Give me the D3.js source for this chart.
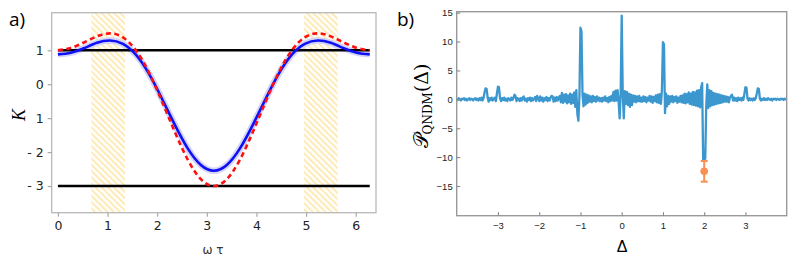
<!DOCTYPE html>
<html>
<head>
<meta charset="utf-8">
<script src="https://cdn.jsdelivr.net/npm/d3@7"></script>
<style>
  body { margin: 0; background: #fff; }
</style>
</head>
<body>
<svg id="chart" width="797" height="261"></svg>
<script>
// ---- panel a data: K against omega*tau, read every pi/12 from 0 to 2pi ----
var omegaStep = Math.PI / 12;
var kTheory = [1, 1.07, 1.23, 1.41, 1.5, 1.38, 1, 0.35, -0.5, -1.41, -2.23, -2.8, -3,
               -2.8, -2.23, -1.41, -0.5, 0.35, 1, 1.38, 1.5, 1.41, 1.23, 1.07, 1];
var kMeasured = [0.88, 0.93, 1.06, 1.22, 1.29, 1.19, 0.87, 0.31, -0.42, -1.2, -1.9, -2.38, -2.55,
                 -2.38, -1.9, -1.2, -0.42, 0.31, 0.87, 1.19, 1.29, 1.22, 1.06, 0.93, 0.88];
var kBounds = [1, -3];
var hatchBands = [[0.673, 1.352], [4.957, 5.636]];
var aTicksX = [0, 1, 2, 3, 4, 5, 6];
var aTicksY = [1, 0, -1, -2, -3];
var aTickLabelsY = ["1", "0", "1", "- 2", "- 3"];

// ---- panel b data: P_QNDM(Delta), read every 0.025 from -4 to 4 ----
var deltaStart = -4, deltaStep = 0.025;
var qndm = [
  0.1, -0.1, 0.2, 0.0, -0.2, 0.1, 0.0, 0.2, -0.1, 0.1, -0.2, 0.0, 0.2, -0.1, 0.1, 0.0, -0.2, 0.1, 0.2, -0.1,
  0.1, -0.2, 0.2, -0.1, 0.3, -0.2, 0.2, 1.2, 1.9, 1.8, 0.3, -0.4, 0.2, -0.1, 0.3, -0.2, 0.1, 0.3, -0.3, 1.0,
  2.2, 2.1, 0.2, -0.3, 0.2, -0.1, 0.3, -0.2, 0.1, -0.3, 0.2, 0.0, -0.2, 0.3, -0.1, 0.2, 0.8, 0.6, -0.3, 0.2,
  0.1, -0.3, 0.2, -0.2, 0.3, 0.5, -0.2, 0.1, -0.4, 0.2, -0.1, 0.3, -0.3, 0.2, -0.2, 0.1, 0.4, -0.3, 0.6, 0.2,
  -0.3, 0.5, -0.2, 0.3, -0.4, 0.2, -0.1, 0.4, -0.3, 0.2, -0.2, 0.3, 0.6, 0.5, -0.4, 0.3, -0.3, 0.4, -0.2, 0.3,
  0.6, -0.5, 1.1, -0.6, 0.8, -0.4, 0.9, -0.7, 0.7, -0.5, 1.0, -0.8, 0.8, -0.6, 1.2, -1.3, 1.6, -2.5, -3.7, 0.5,
  12.4, 11.8, 0.8, -1.2, 1.0, -0.9, 0.8, -0.6, 0.7, -0.4, 0.5, -0.5, 0.6, -0.3, 0.4, -0.4, 0.5, -0.2, 0.3, -0.3,
  0.2, -0.4, 0.3, -0.2, 0.5, -0.3, 0.2, -0.5, 0.4, -0.3, 0.6, -0.2, 1.3, -0.3, 1.5, -0.2, 1.6, -0.4, -3.3, 1.0,
  14.5, 1.0, -3.3, 1.4, -0.8, 1.3, -1.0, 1.0, -1.3, 0.8, -1.0, 0.7, -0.4, 0.6, -0.5, 0.5, -0.3, 0.6, -0.4, 0.3,
  -0.4, 0.5, -0.3, 0.4, -0.5, 0.3, -0.2, 0.6, -0.4, 0.5, -0.6, 0.4, -0.3, 0.7, -0.5, 0.8, -0.6, 0.9, -0.8, 1.5,
  9.9, 9.5, -2.4, 1.0, -1.2, 0.6, -0.8, 0.5, -0.4, 0.6, -0.5, 0.4, -0.3, 0.5, -0.6, 0.3, -0.4, 0.6, -0.5, 0.7,
  -0.6, 1.0, -0.7, 0.9, -0.5, 1.2, -0.8, 1.0, -0.9, 1.3, -1.0, 1.2, -1.1, 1.5, -1.2, 1.6, -1.4, 2.0, 2.8, -10.5,
  -10.5, -10.3, -1.0, 2.6, -1.5, 1.6, -1.2, 1.4, -1.0, 1.1, -0.9, 1.0, -0.8, 0.9, -0.7, 0.8, -0.6, 0.7, -0.5, 0.6,
  -0.4, 0.5, -0.4, 0.4, -0.5, 0.3, 0.6, 0.8, -0.2, 0.3, -0.2, 0.2, -0.3, 0.3, -0.1, 0.2, -0.2, 0.3, -0.1, 1.0,
  2.1, 2.0, 0.1, -0.2, 0.2, -0.1, 0.1, -0.2, 0.2, -0.1, 0.2, 1.0, 1.9, 1.8, 0.1, -0.2, 0.1, -0.1, 0.2, -0.1,
  0.1, -0.1, 0.2, 0.0, -0.1, 0.1, -0.2, 0.1, 0.0, 0.1, -0.1, 0.1, 0.0, -0.1, 0.1, 0.0, 0.1, -0.1, 0.1, 0.0,
  0.0
];
var pointDelta = [2];
var pointValue = [-12.45];
var pointLow = [-14.25];
var pointHigh = [-10.67];
var bTicksX = [-3, -2, -1, 0, 1, 2, 3];
var bTicksY = [-15, -10, -5, 0, 5, 10, 15];

var svg = d3.select("#chart");
var defs = svg.append("defs");

// diagonal hatch for the shaded bands
var pat = defs.append("pattern")
    .attr("id", "hatch")
    .attr("patternUnits", "userSpaceOnUse")
    .attr("width", 4.4).attr("height", 4.4)
    .attr("patternTransform", "rotate(-45)");
pat.append("rect").attr("width", 2.0).attr("height", 4.4).attr("fill", "#feeab4");

// ================= panel a =================
var ax = d3.scaleLinear().domain([-0.1257, 6.409]).range([51.7, 376]);
var ay = d3.scaleLinear().domain([-3.787, 2.108]).range([212.7, 12.7]);
var ga = svg.append("g");

ga.selectAll("rect.hatch")
    .data(hatchBands)
    .enter().append("rect")
    .attr("class", "hatch")
    .attr("x", function(d) { return ax(d[0]); })
    .attr("width", function(d) { return ax(d[1]) - ax(d[0]); })
    .attr("y", ay.range()[1])
    .attr("height", ay.range()[0] - ay.range()[1])
    .attr("fill", "url(#hatch)");

var kLine = d3.line()
    .x(function(d, i) { return ax(i * omegaStep); })
    .y(function(d) { return ay(d); })
    .curve(d3.curveNatural);

// light band round the measured curve
ga.append("path")
    .attr("d", kLine(kMeasured))
    .attr("fill", "none")
    .attr("stroke", "#d4d4f8")
    .attr("stroke-width", 6.5);

ga.selectAll("line.bound")
    .data(kBounds)
    .enter().append("line")
    .attr("class", "bound")
    .attr("x1", ax(0)).attr("x2", ax(2 * Math.PI))
    .attr("y1", function(d) { return ay(d); })
    .attr("y2", function(d) { return ay(d); })
    .attr("stroke", "#000")
    .attr("stroke-width", 2.4);

ga.append("path")
    .attr("d", kLine(kMeasured))
    .attr("fill", "none")
    .attr("stroke", "#1010f5")
    .attr("stroke-width", 2.6);

ga.append("path")
    .attr("d", kLine(kTheory))
    .attr("fill", "none")
    .attr("stroke", "#ff1010")
    .attr("stroke-width", 2.6)
    .attr("stroke-dasharray", "5,3.5");

// frame
ga.append("rect")
    .attr("x", 51.7).attr("y", 12.7)
    .attr("width", 376 - 51.7).attr("height", 212.7 - 12.7)
    .attr("fill", "none")
    .attr("stroke", "#b8b8b8")
    .attr("stroke-width", 1.3);

var axA = ga.append("g")
    .attr("transform", "translate(0,212.7)")
    .call(d3.axisBottom(ax).tickValues(aTicksX).tickSize(4).tickPadding(4)
      .tickFormat(d3.format("d")));
var ayA = ga.append("g")
    .attr("transform", "translate(51.7,0)")
    .call(d3.axisLeft(ay).tickValues(aTicksY).tickSize(4).tickPadding(4)
      .tickFormat(function(d, i) { return aTickLabelsY[i]; }));
[axA, ayA].forEach(function(g) {
  g.select(".domain").remove();
  g.selectAll(".tick line").attr("stroke", "#a8a8a8").attr("stroke-width", 1.2);
  g.selectAll(".tick text")
    .attr("fill", "#222")
    .style("font-family", "DejaVu Sans, sans-serif")
    .style("font-size", "12.5px");
});

ga.append("text")
    .attr("transform", "translate(25,115) rotate(-90)")
    .attr("text-anchor", "middle")
    .style("font-family", "Liberation Serif, serif")
    .style("font-style", "italic")
    .style("font-size", "18px")
    .text("K");

ga.append("text")
    .attr("x", 213).attr("y", 254)
    .attr("text-anchor", "middle")
    .attr("fill", "#333")
    .style("font-family", "DejaVu Sans, sans-serif")
    .style("font-size", "12px")
    .text("ω τ");

ga.append("text")
    .attr("x", 9).attr("y", 26)
    .style("font-family", "Open Sans, sans-serif")
    .style("font-size", "19px")
    .text("a)");

// ================= panel b =================
var bx = d3.scaleLinear().domain([-4, 4]).range([456.7, 786.7]);
var by = d3.scaleLinear().domain([-20.14, 15.17]).range([215.7, 11.7]);
var gb = svg.append("g");

var qLine = d3.line()
    .x(function(d, i) { return bx(deltaStart + i * deltaStep); })
    .y(function(d) { return by(d); });

gb.append("path")
    .attr("d", qLine(qndm))
    .attr("fill", "none")
    .attr("stroke", "#3d97cf")
    .attr("stroke-width", 2.3)
    .attr("stroke-linejoin", "round");

var orange = "#f98f52";
gb.selectAll("line.err")
    .data(pointDelta)
    .enter().append("line")
    .attr("class", "err")
    .attr("x1", function(d) { return bx(d); })
    .attr("x2", function(d) { return bx(d); })
    .attr("y1", function(d, i) { return by(pointLow[i]); })
    .attr("y2", function(d, i) { return by(pointHigh[i]); })
    .attr("stroke", orange).attr("stroke-width", 2);
[pointLow, pointHigh].forEach(function(arr) {
  gb.selectAll(null)
    .data(pointDelta)
    .enter().append("line")
    .attr("x1", function(d) { return bx(d) - 3.5; })
    .attr("x2", function(d) { return bx(d) + 3.5; })
    .attr("y1", function(d, i) { return by(arr[i]); })
    .attr("y2", function(d, i) { return by(arr[i]); })
    .attr("stroke", orange).attr("stroke-width", 2);
});
gb.selectAll("circle.pt")
    .data(pointDelta)
    .enter().append("circle")
    .attr("class", "pt")
    .attr("cx", function(d) { return bx(d); })
    .attr("cy", function(d, i) { return by(pointValue[i]); })
    .attr("r", 3.8)
    .attr("fill", orange);

gb.append("rect")
    .attr("x", 456.7).attr("y", 11.7)
    .attr("width", 786.7 - 456.7).attr("height", 215.7 - 11.7)
    .attr("fill", "none")
    .attr("stroke", "#999")
    .attr("stroke-width", 1.4);

var bxA = gb.append("g")
    .attr("transform", "translate(0,215.7)")
    .call(d3.axisBottom(bx).tickValues(bTicksX).tickSize(-3.5).tickPadding(7));
var byA = gb.append("g")
    .attr("transform", "translate(456.7,0)")
    .call(d3.axisLeft(by).tickValues(bTicksY).tickSize(-3.5).tickPadding(4));
[bxA, byA].forEach(function(g) {
  g.select(".domain").remove();
  g.selectAll(".tick line").attr("stroke", "#888").attr("stroke-width", 1.1);
  g.selectAll(".tick text")
    .attr("fill", "#222")
    .style("font-family", "Liberation Sans, Arial, sans-serif")
    .style("font-size", "9.5px");
});

gb.append("text")
    .attr("x", 622).attr("y", 251.5)
    .attr("text-anchor", "middle")
    .style("font-family", "Liberation Sans, Arial, sans-serif")
    .style("font-size", "16px")
    .text("Δ");

var yl = gb.append("text")
    .attr("transform", "translate(428,106) rotate(-90)")
    .attr("text-anchor", "middle")
    .style("font-family", "DejaVu Serif, Liberation Serif, serif");
yl.append("tspan").style("font-size", "20px").text("𝒫");
yl.append("tspan").style("font-size", "12px").attr("dy", 4).text("QNDM");
yl.append("tspan").style("font-size", "19px").attr("dy", -4).text("(Δ)");

gb.append("text")
    .attr("x", 397).attr("y", 26)
    .style("font-family", "Open Sans, sans-serif")
    .style("font-size", "19px")
    .text("b)");
</script>
</body>
</html>
